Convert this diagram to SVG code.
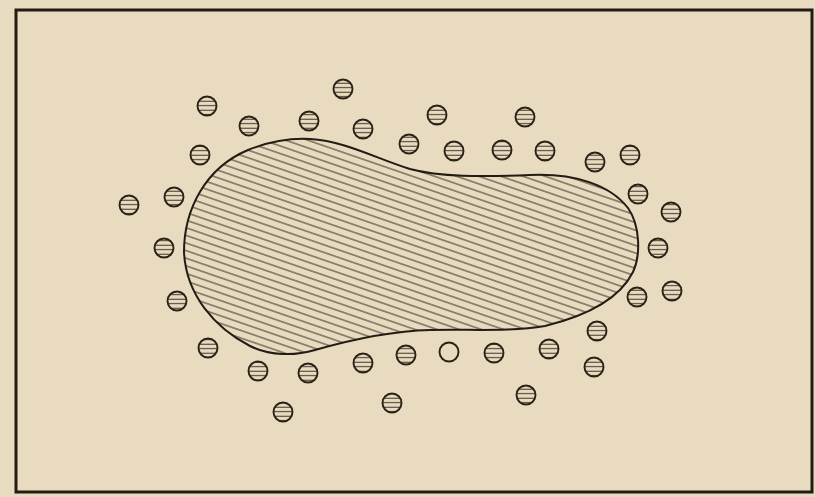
<svg xmlns="http://www.w3.org/2000/svg" width="815" height="497" viewBox="0 0 815 497">
  <defs>
    <pattern id="blobHatch" patternUnits="userSpaceOnUse" width="40" height="7.2" patternTransform="rotate(19)">
      <line x1="0" y1="3.6" x2="40" y2="3.6" stroke="#2e261c" stroke-width="1.1"/>
    </pattern>
    <pattern id="dotHatch" patternUnits="userSpaceOnUse" width="20" height="4.5">
      <line x1="0" y1="2.2" x2="20" y2="2.2" stroke="#3e3428" stroke-width="1"/>
    </pattern>
  </defs>
  <style>
    .dot { fill: url(#dotHatch); stroke: #2a2218; stroke-width: 1.9; }
    .empty { fill: none; stroke: #2a2218; stroke-width: 1.9; }
  </style>
  <rect x="0" y="0" width="815" height="497" fill="#e8dbbf"/>
  <g id="frame">
    <rect x="16" y="10" width="796" height="482" fill="none" stroke="#231c15" stroke-width="3"/>
  </g>
  <g id="blob">
    <path d="M184,252 C184,210 205,168 248,150 C268,142 290,138 310,139 C345,141 375,158 410,169 C440,177 480,177 530,175 C575,173 610,185 628,208 C640,225 641,255 633,272 C620,298 590,315 545,326 C510,332 470,329 430,330 C390,331 350,340 315,350 C295,356 270,356 250,346 C215,328 186,295 184,252 Z" fill="url(#blobHatch)" stroke="#231c15" stroke-width="2"/>
  </g>
  <g id="circles">
    <circle class="dot" cx="207" cy="106" r="9.5"/>
    <circle class="dot" cx="249" cy="126" r="9.5"/>
    <circle class="dot" cx="343" cy="89" r="9.5"/>
    <circle class="dot" cx="309" cy="121" r="9.5"/>
    <circle class="dot" cx="363" cy="129" r="9.5"/>
    <circle class="dot" cx="437" cy="115" r="9.5"/>
    <circle class="dot" cx="525" cy="117" r="9.5"/>
    <circle class="dot" cx="409" cy="144" r="9.5"/>
    <circle class="dot" cx="454" cy="151" r="9.5"/>
    <circle class="dot" cx="502" cy="150" r="9.5"/>
    <circle class="dot" cx="545" cy="151" r="9.5"/>
    <circle class="dot" cx="595" cy="162" r="9.5"/>
    <circle class="dot" cx="630" cy="155" r="9.5"/>
    <circle class="dot" cx="200" cy="155" r="9.5"/>
    <circle class="dot" cx="174" cy="197" r="9.5"/>
    <circle class="dot" cx="129" cy="205" r="9.5"/>
    <circle class="dot" cx="164" cy="248" r="9.5"/>
    <circle class="dot" cx="177" cy="301" r="9.5"/>
    <circle class="dot" cx="208" cy="348" r="9.5"/>
    <circle class="dot" cx="638" cy="194" r="9.5"/>
    <circle class="dot" cx="671" cy="212" r="9.5"/>
    <circle class="dot" cx="658" cy="248" r="9.5"/>
    <circle class="dot" cx="637" cy="297" r="9.5"/>
    <circle class="dot" cx="672" cy="291" r="9.5"/>
    <circle class="dot" cx="597" cy="331" r="9.5"/>
    <circle class="dot" cx="594" cy="367" r="9.5"/>
    <circle class="dot" cx="258" cy="371" r="9.5"/>
    <circle class="dot" cx="308" cy="373" r="9.5"/>
    <circle class="dot" cx="363" cy="363" r="9.5"/>
    <circle class="dot" cx="406" cy="355" r="9.5"/>
    <circle class="empty" cx="449" cy="352" r="9.5"/>
    <circle class="dot" cx="494" cy="353" r="9.5"/>
    <circle class="dot" cx="549" cy="349" r="9.5"/>
    <circle class="dot" cx="283" cy="412" r="9.5"/>
    <circle class="dot" cx="392" cy="403" r="9.5"/>
    <circle class="dot" cx="526" cy="395" r="9.5"/>
  </g>
</svg>
